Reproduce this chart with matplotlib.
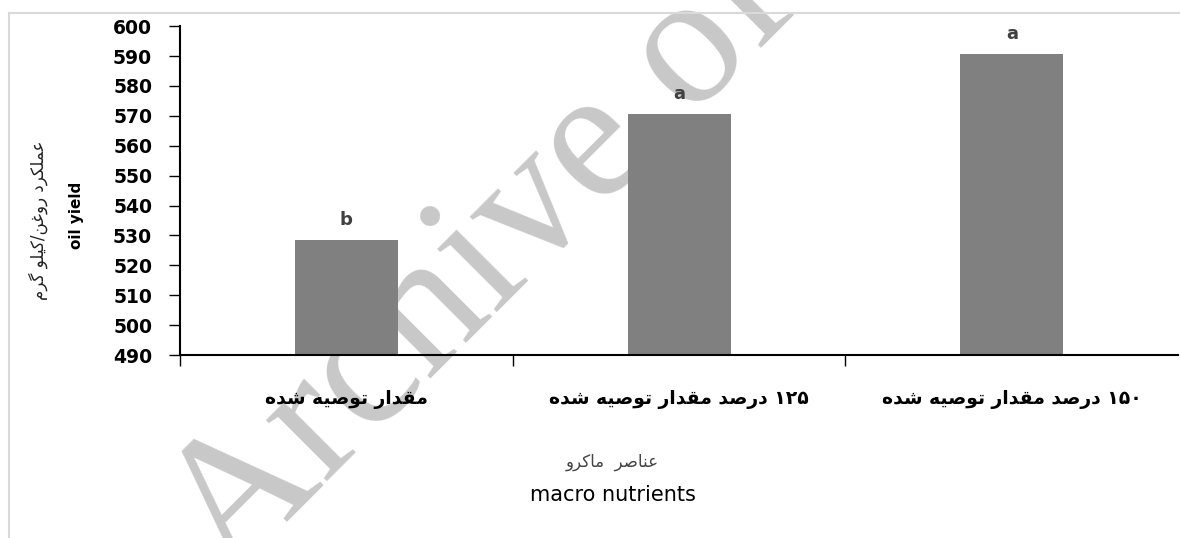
import re
import matplotlib
matplotlib.use("Agg")
import matplotlib.pyplot as plt
from matplotlib.lines import Line2D

# data
categories = ["مقدار توصیه شده", "۱۲۵ درصد مقدار توصیه شده", "۱۵۰ درصد مقدار توصیه شده"]
oil_yield = [528.5, 570.6, 590.6]
letters = ["b", "a", "a"]
y_ticks = list(range(490, 601, 10))

ylabel_fa = "عملکرد روغن/کیلو گرم"
ylabel_en = "oil yield"
xlabel_fa = "عناصر  ماکرو"
xlabel_en = "macro nutrients"

# presentation forms: isolated, final, initial, medial
FORMS = {
    "ا": ("\uFE8D", "\uFE8E", None, None),
    "د": ("\uFEA9", "\uFEAA", None, None),
    "ر": ("\uFEAD", "\uFEAE", None, None),
    "و": ("\uFEED", "\uFEEE", None, None),
    "ت": ("\uFE95", "\uFE96", "\uFE97", "\uFE98"),
    "ش": ("\uFEB5", "\uFEB6", "\uFEB7", "\uFEB8"),
    "ص": ("\uFEB9", "\uFEBA", "\uFEBB", "\uFEBC"),
    "ع": ("\uFEC9", "\uFECA", "\uFECB", "\uFECC"),
    "غ": ("\uFECD", "\uFECE", "\uFECF", "\uFED0"),
    "ق": ("\uFED5", "\uFED6", "\uFED7", "\uFED8"),
    "ل": ("\uFEDD", "\uFEDE", "\uFEDF", "\uFEE0"),
    "م": ("\uFEE1", "\uFEE2", "\uFEE3", "\uFEE4"),
    "ن": ("\uFEE5", "\uFEE6", "\uFEE7", "\uFEE8"),
    "ه": ("\uFEE9", "\uFEEA", "\uFEEB", "\uFEEC"),
    "ی": ("\uFBFC", "\uFBFD", "\uFBFE", "\uFBFF"),
    "ک": ("\uFB8E", "\uFB8F", "\uFB90", "\uFB91"),
    "گ": ("\uFB92", "\uFB93", "\uFB94", "\uFB95"),
}


def fa(text):
    """Shape Persian letters and put them in visual (left to right) order."""
    out = []
    for i, ch in enumerate(text):
        if ch not in FORMS:
            out.append(ch)
            continue
        prev = text[i - 1] if i > 0 else ""
        nxt = text[i + 1] if i + 1 < len(text) else ""
        joins_prev = prev in FORMS and FORMS[prev][2] is not None
        joins_next = FORMS[ch][2] is not None and nxt in FORMS
        iso, fin, ini, med = FORMS[ch]
        if joins_prev and joins_next:
            out.append(med)
        elif joins_prev:
            out.append(fin)
        elif joins_next:
            out.append(ini)
        else:
            out.append(iso)
    vis = "".join(out)[::-1]
    # numbers keep left to right order
    return re.sub("[\u06F0-\u06F90-9]+", lambda m: m.group(0)[::-1], vis)


plt.rcParams["font.family"] = ["DejaVu Sans"]

fig = plt.figure(figsize=(11.8, 5.38), dpi=100)
ax = fig.add_axes([0.1525, 0.340, 0.846, 0.6115])

x = list(range(len(categories)))
ax.bar(x, oil_yield, width=0.31, color="#808080", zorder=2)

for xi, v, l in zip(x, oil_yield, letters):
    ax.annotate(l, (xi, v), xytext=(0, 11), textcoords="offset points",
                ha="center", va="baseline", fontsize=13, fontweight="bold",
                color="#404040")

ax.set_xlim(-0.5, len(categories) - 0.5)
ax.set_ylim(490, 600)
ax.set_yticks(y_ticks)
ax.set_yticklabels([str(t) for t in y_ticks], fontsize=13.5, fontweight="bold")
ax.tick_params(axis="y", length=8, width=1, pad=12, direction="out")

ax.set_xticks(x)
ax.set_xticklabels([fa(c) for c in categories], fontsize=13.5, fontweight="bold")
ax.tick_params(axis="x", which="major", length=0, pad=25)
ax.set_xticks([i - 0.5 for i in range(len(categories))], minor=True)
ax.tick_params(axis="x", which="minor", length=8, width=1, direction="out")

for side in ["top", "right"]:
    ax.spines[side].set_visible(False)
for side in ["left", "bottom"]:
    ax.spines[side].set_linewidth(1.5)
    ax.spines[side].set_color("black")

# axis titles
fig.text(38 / 1180, 1 - 220 / 538, fa(ylabel_fa), rotation=90, ha="center",
         va="center", fontsize=12, color="#222222")
fig.text(77 / 1180, 1 - 215 / 538, ylabel_en, rotation=90, ha="center",
         va="center", fontsize=11, fontweight="bold")
fig.text(612 / 1180, 1 - 462 / 538, fa(xlabel_fa), ha="center", va="center",
         fontsize=12, color="#444444")
fig.text(613 / 1180, 1 - 495 / 538, xlabel_en, ha="center", va="center",
         fontsize=15)

# watermark behind the bars
ax.text(230 / 1180, 1 - 580 / 538, "Archive of SID", transform=fig.transFigure,
        rotation=45, rotation_mode="anchor", ha="left", va="baseline",
        fontsize=135, family="Liberation Serif", color="#c8c8c8",
        zorder=0.5, clip_on=False)

# outer frame
fig.add_artist(Line2D([9 / 1180, 1], [1 - 13 / 538] * 2, color="#d9d9d9", lw=1.5))
fig.add_artist(Line2D([9 / 1180] * 2, [0, 1 - 13 / 538], color="#d9d9d9", lw=1.5))

fig.savefig("out.png", dpi=100)
